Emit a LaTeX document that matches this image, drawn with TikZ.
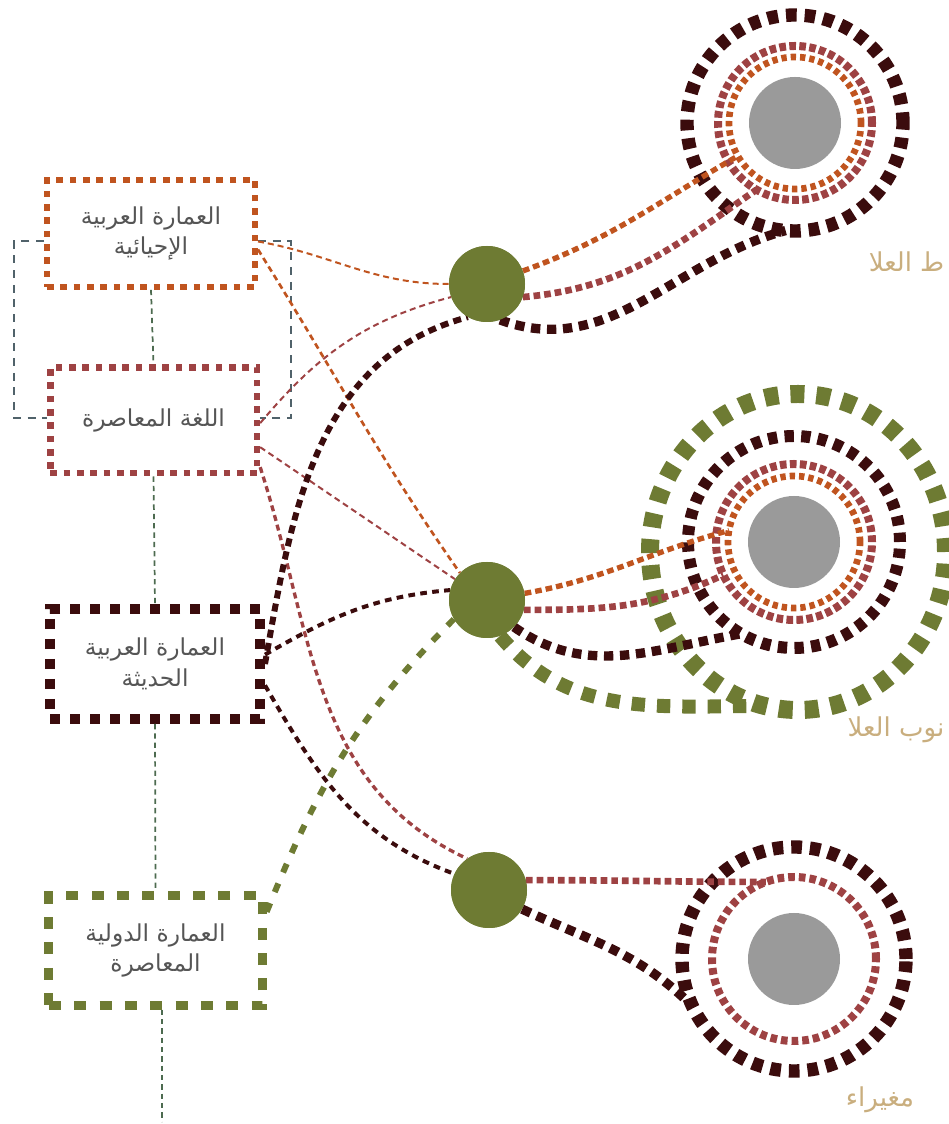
\documentclass[tikz,border=0pt]{standalone}
\usepackage{fontspec}
\newfontfamily\arabicfont[Script=Arabic]{DejaVu Sans}
\TeXXeTstate=1
\usetikzlibrary{calc}

\definecolor{rust}{HTML}{C0541F}
\definecolor{wine}{HTML}{9E4243}
\definecolor{choc}{HTML}{3B0C0D}
\definecolor{moss}{HTML}{6E7B33}
\definecolor{slate}{HTML}{50626A}
\definecolor{fern}{HTML}{4D6B50}
\definecolor{stone}{HTML}{9A9A9A}
\definecolor{sand}{HTML}{C9AE7E}
\definecolor{ink}{HTML}{555555}

\newcommand{\artxt}[1]{{\arabicfont\beginR #1\endR}}

\begin{document}
\begin{tikzpicture}[x=0.75pt,y=0.75pt,font=\fontsize{17.5pt}{23pt}\selectfont,
  box/.style={draw,fill=white,inner sep=0pt,align=center,text=ink},
  hub/.style={circle,fill=moss,minimum size=57pt,inner sep=0pt},
  site/.style={circle,fill=stone,minimum size=69pt,inner sep=0pt},
  thinlink/.style={line width=1.5pt,dash pattern=on 4.5pt off 3pt},
  darklink/.style={line width=3pt,dash pattern=on 5pt off 4pt,choc},
  stem/.style={fern,line width=1.3pt,dash pattern=on 4pt off 3pt},
  ring/.style={line width=#1},
  place/.style={text=sand,font=\fontsize{19.5pt}{22pt}\selectfont}]

\path[use as bounding box,clip] (0,0) rectangle (949,1124);

% sites
\node[site] (centre) at (795,1001) {};
\node[site] (south) at (794,582) {};
\node[site] (mughaira) at (794,165) {};

% hubs
\node[hub] (hubA) at (487,840) {};
\node[hub] (hubB) at (487,524) {};
\node[hub] (hubC) at (489,234) {};

% rings
\draw[ring=10pt,choc,dash pattern=on 8pt off 6pt] (centre) circle (108);
\draw[ring=6pt,wine,dash pattern=on 5pt off 2.5pt] (centre) circle (77);
\draw[ring=5pt,rust,dash pattern=on 4pt off 3pt] (centre) circle (66);

\draw[ring=13.5pt,moss,dash pattern=on 10.5pt off 9pt] ($(south)+(4,-10)$) ellipse [x radius=148,y radius=158];
\draw[ring=9pt,choc,dash pattern=on 7pt off 5.5pt] (south) circle (106);
\draw[ring=6pt,wine,dash pattern=on 5pt off 2.5pt] (south) circle (78);
\draw[ring=5pt,rust,dash pattern=on 4pt off 3pt] (south) circle (66);

\draw[ring=10pt,choc,dash pattern=on 8pt off 6pt] (mughaira) circle (112);
\draw[ring=6pt,wine,dash pattern=on 5pt off 3pt] (mughaira) circle (82);

% ring entry points
\coordinate (cA) at ($(centre)+(210:66)$);
\coordinate (cB) at ($(centre)+(240:77)$);
\coordinate (cC) at ($(centre)+(265:108)$);
\coordinate (sA) at ($(south)+(170:66)$);
\coordinate (sB) at ($(south)+(205:78)$);
\coordinate (sC) at ($(south)+(240:106)$);
\coordinate (sD) at ($(south)+(-30,-164)$);
\coordinate (mB) at ($(mughaira)+(110:82)$);
\coordinate (mC) at ($(mughaira)+(205:112)$);

% hubs to sites
\draw[rust,line width=4pt,dash pattern=on 5pt off 3pt] (hubA.20) to[out=20,in=210] (cA);
\draw[wine,line width=5pt,dash pattern=on 5pt off 3pt] (hubA.-20) to[out=5,in=215] (cB);
\draw[choc,line width=7pt,dash pattern=on 7pt off 5pt] (hubA.-70) to[out=-20,in=195] (cC);

\draw[rust,line width=4pt,dash pattern=on 5pt off 3pt] (hubB.10) to[out=10,in=195] (sA);
\draw[wine,line width=5pt,dash pattern=on 5pt off 3pt] (hubB.-15) to[out=0,in=205] (sB);
\draw[choc,line width=7pt,dash pattern=on 7pt off 5pt] (hubB.-45) to[out=-35,in=190] (sC);
\draw[moss,line width=10.5pt,dash pattern=on 10pt off 9pt] (hubB.-70) to[out=-50,in=180] (sD);

\draw[wine,line width=5pt,dash pattern=on 5pt off 3pt] (hubC.15) to[out=0,in=180] (mB);
\draw[choc,line width=7pt,dash pattern=on 7pt off 5pt] (hubC.-30) to[out=-25,in=135] (mC);

% boxes
\node[box,draw=rust,line width=4.5pt,dash pattern=on 5pt off 5pt,minimum width=156pt,minimum height=80pt] (revival) at (151,890.5) {\artxt{العمارة العربية}\\\artxt{الإحيائية}};
\node[box,draw=wine,line width=5pt,dash pattern=on 5pt off 5pt,minimum width=155pt,minimum height=79pt] (language) at (153.5,703.5) {\artxt{اللغة المعاصرة}};
\node[box,draw=choc,line width=7.5pt,dash pattern=on 7.5pt off 7.5pt,minimum width=157.5pt,minimum height=82.5pt] (modern) at (155,460) {\artxt{العمارة العربية}\\\artxt{الحديثة}};
\node[box,draw=moss,line width=6.75pt,dash pattern=on 9pt off 10pt,minimum width=160pt,minimum height=82pt] (intl) at (155.5,173.5) {\artxt{العمارة الدولية}\\\artxt{المعاصرة}};

% stems and bracket
\draw[stem] (revival.south) -- (language.north);
\draw[stem] (language.south) -- (modern.north);
\draw[stem] (modern.south) -- (intl.north);
\draw[stem] ([xshift=5pt]intl.south) -- ++(0,-112);
\draw[slate,line width=1.5pt,dash pattern=on 6pt off 5pt] ([yshift=-6pt]revival.west) -- ++(-30,0) |- ([yshift=2pt]language.west);
\draw[slate,line width=1.5pt,dash pattern=on 6pt off 5pt] ([yshift=-6pt]revival.east) -- ++(33,0) |- ([yshift=2pt]language.east);

% boxes to hubs
\draw[thinlink,rust] ([yshift=-6pt]revival.east) to[out=-10,in=180] (hubA.west);
\draw[thinlink,rust,line width=2pt] ([yshift=-12pt]revival.east) to[out=-58,in=125] (hubB.135);
\draw[thinlink,wine] ([yshift=-2pt]language.east) to[out=50,in=195] (hubA.200);
\draw[thinlink,wine] ([yshift=-20pt]language.east) -- (hubB.147);
\draw[thinlink,wine,line width=2.5pt] ([yshift=-35pt]language.east) to[out=-72,in=155] (hubC.125);
\draw[choc,line width=4.5pt,dash pattern=on 6pt off 4pt] (modern.east) to[out=80,in=195] (hubA.240);
\draw[darklink] ([yshift=7pt]modern.east) to[out=30,in=185] (hubB.165);
\draw[darklink] ([yshift=-16pt]modern.east) to[out=-60,in=160] (hubC.155);
\draw[moss,line width=4.5pt,dash pattern=on 7pt off 9pt] ([yshift=29pt]intl.east) to[out=68,in=225] (hubB.210);

% hubs on top
\node[hub] at (hubA) {};
\node[hub] at (hubB) {};
\node[hub] at (hubC) {};

% place names
\node[place,anchor=east] (lblcentre) at (949,862) {\artxt{ط العلا}};
\node[place,anchor=east] (lblsouth) at (949,394) {\artxt{نوب العلا}};
\node[place] (lblmughaira) at (880,24) {\artxt{مغيراء}};

\end{tikzpicture}
\end{document}
